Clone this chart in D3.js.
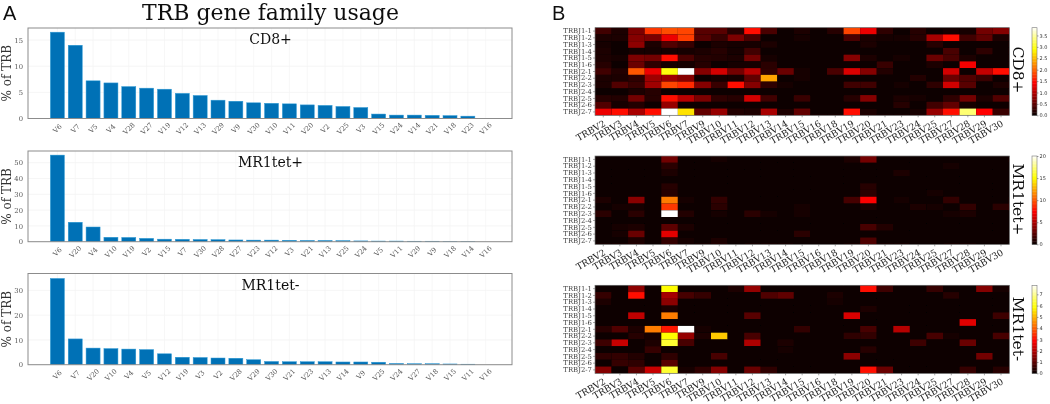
<!DOCTYPE html>
<html><head><meta charset="utf-8">
<style>html,body{margin:0;padding:0;background:#fff;overflow:hidden}svg{display:block}</style>
<script src="https://d3js.org/d3.v7.min.js"></script></head>
<body><svg id="c" width="1050" height="404"></svg>
<script>
const cd8Genes=["V6","V7","V5","V4","V28","V27","V19","V12","V13","V29","V9","V30","V10","V11","V20","V2","V25","V3","V15","V24","V14","V21","V18","V23","V16"];
const cd8Usage=[16.5,14,7.2,6.8,6.1,5.8,5.6,4.8,4.4,3.5,3.3,3.0,2.9,2.8,2.6,2.5,2.3,2.1,.85,.65,.65,.6,.55,.45,0];
const posGenes=["V6","V20","V4","V10","V19","V2","V15","V7","V30","V28","V27","V23","V12","V3","V21","V13","V25","V24","V5","V11","V29","V9","V18","V14","V16"];
const posUsage=[54.8,12.3,9.3,2.8,2.7,2.1,1.6,1.5,1.4,1.3,1.1,1.0,1.0,.9,.8,.8,.7,.5,.4,.4,.3,.3,.1,.05,0];
const negGenes=["V6","V7","V20","V10","V4","V5","V12","V19","V3","V2","V28","V29","V30","V21","V23","V13","V14","V9","V25","V24","V27","V18","V15","V11","V16"];
const negUsage=[34.8,10.4,6.7,6.5,6.3,6.1,4.4,3,2.9,2.7,2.6,2,1.3,1.2,1.2,1.2,1.1,1.1,1,.5,.4,.4,.3,.2,0];
const trbj=["TRBJ1-1","TRBJ1-2","TRBJ1-3","TRBJ1-4","TRBJ1-5","TRBJ1-6","TRBJ2-1","TRBJ2-2","TRBJ2-3","TRBJ2-4","TRBJ2-5","TRBJ2-6","TRBJ2-7"];
const trbv=["TRBV2","TRBV3","TRBV4","TRBV5","TRBV6","TRBV7","TRBV9","TRBV10","TRBV11","TRBV12","TRBV13","TRBV14","TRBV15","TRBV16","TRBV18","TRBV19","TRBV20","TRBV21","TRBV23","TRBV24","TRBV25","TRBV27","TRBV28","TRBV29","TRBV30"];
// each inner array: one TRBV column, top (TRBJ1-1) to bottom (TRBJ2-7)
const cd8Heat=[
[.3,.1,.05,.1,.1,.15,.3,.1,.1,.02,.15,.4,1.3],
[.1,.1,.02,.02,.05,.03,.12,.1,.4,.03,.12,.05,1.45],
[.65,.7,.75,.05,.65,.55,1.9,.2,.25,.1,.6,.12,.9],
[1.7,.65,.1,.05,.6,.2,1.3,.85,.85,.15,.15,.03,1.5],
[1.85,1.3,.4,.05,1.45,.05,2.9,.85,1.8,.03,1.5,.8,3.84],
[1.8,1.75,.25,.05,.35,.05,3.84,.7,1.65,.03,1,.03,2.7],
[.45,.45,.03,.1,.15,.15,.7,.03,.7,.02,.65,.03,.5],
[.45,.25,.1,.15,.12,.02,1.15,.05,.25,.02,.2,.03,.8],
[.15,.65,.05,.04,.1,.05,.6,.08,1.45,.02,.15,.03,.12],
[1.45,.35,.05,.3,.6,.05,1,.5,.7,.03,1.15,.03,.1],
[.35,.03,.1,.02,.04,.18,.2,2.35,.2,.02,.3,.02,.9],
[.02,.02,.02,.02,.02,.02,.55,.02,.05,.02,.03,.02,.1],
[.1,.05,.02,.02,.02,.02,.08,.08,.03,.02,.25,.02,.5],
[.01,.01,.01,.01,.01,.01,.01,.01,.01,.01,.01,.01,.01],
[.15,.01,.01,.01,.01,.01,.35,.01,.01,.01,.01,.01,.01],
[1.8,.35,.01,.01,.7,.01,1.2,.02,.3,.01,.15,.01,1.45],
[1.3,.1,.1,.01,.1,.01,.7,.01,.3,.01,.7,.01,.1],
[.2,.08,.01,.01,.02,.25,.12,.01,.01,.01,.01,.01,.01],
[.01,.06,.01,.01,.07,.01,.01,.01,.05,.01,.1,.15,.01],
[.15,.15,.01,.01,.01,.01,.01,.12,.01,.01,.05,.03,.08],
[.02,.9,.15,.02,.55,.1,.02,.02,.2,.01,.01,.3,.8],
[.05,1.45,.02,.35,.35,.02,1.15,.55,1.15,.02,.2,.5,1.5],
[.05,.3,.01,.01,.1,1.35,.01,.4,.45,.01,.6,.05,3.3],
[.6,.5,.01,.2,.01,.01,1.05,.25,.01,.01,.1,.01,1.4],
[.7,.1,.01,.01,.01,.03,1.45,.02,.1,.01,.4,.01,.25]];
const posHeat=[
[.1,0,0,0,0,0,.6,.05,.9,0,.05,.05,.05],
[0,0,0,0,0,0,.05,.2,.05,0,.3,.2,.05],
[.05,0,0,0,0,0,3.8,.4,.9,0,.6,2.8,.6],
[.1,0,0,0,0,0,0,0,0,0,0,0,0],
[3,1,.5,0,.8,.8,11,9,20,0,2.4,6.5,1.2],
[0,0,0,0,0,0,.2,.05,.7,0,.5,.05,.2],
[0,0,0,0,0,0,.05,0,.05,0,.05,0,.15],
[.2,0,0,0,0,0,1.2,.9,.2,0,.1,0,.5],
[0,0,0,0,0,0,0,0,0,0,0,0,0],
[0,0,0,0,0,0,0,.1,.9,0,0,0,.05],
[0,0,0,0,0,0,0,.15,.2,0,0,0,.05],
[0,0,0,0,0,0,0,.15,.1,0,0,0,.05],
[0,0,0,0,0,0,.05,.2,.4,0,.05,.9,0],
[0,0,0,0,0,0,0,0,0,0,0,0,0],
[0,0,0,0,0,0,0,0,0,0,0,0,0],
[.5,0,0,0,0,0,1.7,0,0,0,0,0,.05],
[3.1,0,0,0,.8,1,7.3,.5,0,0,1.8,0,2],
[.1,0,.15,0,0,0,.05,0,0,0,.7,0,.05],
[0,0,.6,0,0,0,.2,0,0,0,0,0,.1],
[0,0,0,0,0,0,0,.5,0,0,.1,0,0],
[0,0,0,0,0,.4,.05,.3,0,0,0,0,0],
[0,.3,0,0,0,0,1.1,0,.4,0,0,0,.05],
[0,0,0,0,0,0,.1,1.1,.5,0,0,.05,.05],
[.1,0,0,0,0,0,0,0,0,0,0,0,0],
[.1,0,0,0,0,0,.1,1,0,0,0,0,0]];
const negHeat=[
[0,.5,.2,0,.05,0,.3,0,.6,0,.4,0,1.4],
[0,0,0,0,0,0,.8,0,2.2,0,.45,.5,0],
[1.5,3,0,0,2.1,0,.2,.3,0,0,.25,.4,.9],
[0,0,0,0,0,0,4.3,.15,.2,.5,0,0,2.2],
[5.8,1.8,1.5,.2,4.3,0,3.1,5.8,6.2,0,.4,.9,6.2],
[0,.7,0,0,0,0,7.8,1.6,.7,0,0,0,.15],
[0,.5,0,0,0,0,.1,.2,0,0,0,0,.4],
[0,0,0,0,0,0,0,5.2,0,0,.7,0,1.4],
[.2,0,0,0,0,0,0,0,0,0,0,0,0],
[1.6,0,0,0,.9,0,0,.7,1.9,0,0,0,1.1],
[0,.8,0,0,0,0,0,0,0,0,0,0,.4],
[0,1,0,0,0,0,0,0,.2,.1,0,0,0],
[0,0,0,0,0,0,.45,0,0,0,0,0,0],
[0,0,0,0,0,0,0,0,0,0,0,0,0],
[0,.2,.1,0,0,0,0,0,0,0,0,0,0],
[0,0,0,0,2.4,0,0,.4,0,0,1.5,0,0],
[3,0,0,.2,0,0,.7,.45,0,.3,0,0,3],
[.6,0,0,0,0,0,0,0,0,0,0,0,1.1],
[0,0,0,0,0,0,2,0,0,0,0,0,0],
[0,0,0,0,0,0,0,0,.6,0,0,0,0],
[.5,0,0,0,0,0,0,.7,0,0,0,0,0],
[0,.3,0,0,0,0,0,.15,0,0,0,0,0],
[0,0,0,0,0,2.5,0,0,1.1,0,0,0,.5],
[1.4,0,0,0,0,0,0,0,0,0,1.2,0,0],
[.15,0,0,0,.6,0,0,.7,0,0,0,0,.3]];
const cd8Ticks=[0,5,10,15], posTicks=[0,10,20,30,40,50], negTicks=[0,10,20,30];
const cd8Bar=[0,.5,1,1.5,2,2.5,3,3.5], posBar=[0,5,10,15,20], negBar=[0,1,2,3,4,5,6,7];

const serif="'DejaVu Serif',serif";
const svg=d3.select("#c");
const defs=svg.append("defs");
defs.append("filter").attr("id","soft").attr("x","-5%").attr("y","-5%").attr("width","110%").attr("height","110%")
  .append("feGaussianBlur").attr("stdDeviation",0.55);
const root=svg.append("g").attr("filter","url(#soft)");

// matplotlib "hot" colour map
const hot=d3.scaleLinear().domain([0,.365,.746,1]).range(["#0b0000","#ff0000","#ffff00","#ffffff"]).clamp(true);

function txt(g,x,y,s,size,fam,extra){
  const t=g.append("text").attr("x",x).attr("y",y).text(s).attr("font-size",size).attr("font-family",fam).attr("fill","#111");
  if(extra) extra(t); return t;
}
txt(root,3,20,"A",20,"'Liberation Sans',sans-serif");
txt(root,552,19.5,"B",20,"'Liberation Sans',sans-serif");
txt(root,270.5,20,"TRB gene family usage",22,serif,t=>t.attr("text-anchor","middle"));

function barPanel(top,bottom,ymax,genes,vals,ticks,name,nameY){
  const L=28,R=512;
  const x=d3.scaleBand().domain(genes).range([48.6,494.5]).paddingInner(.215).paddingOuter(.1);
  const y=d3.scaleLinear().domain([0,ymax]).range([bottom,top]);
  const g=root.append("g");
  g.append("g").selectAll("line").data(ticks).join("line").attr("x1",L).attr("x2",R)
    .attr("y1",d=>y(d)).attr("y2",d=>y(d)).attr("stroke","#f0f0f0").attr("stroke-width",.7);
  g.append("g").selectAll("line").data(genes).join("line").attr("y1",top).attr("y2",bottom)
    .attr("x1",d=>x(d)+x.bandwidth()/2).attr("x2",d=>x(d)+x.bandwidth()/2).attr("stroke","#f3f3f3").attr("stroke-width",.7);
  g.append("g").selectAll("rect").data(genes).join("rect")
    .attr("x",d=>x(d)).attr("width",x.bandwidth())
    .attr("y",(d,i)=>y(vals[i])).attr("height",(d,i)=>bottom-y(vals[i]))
    .attr("fill","#0071b6").attr("stroke","#2f9bd6").attr("stroke-width",(d,i)=>vals[i]>0?.5:0);
  g.append("rect").attr("x",L).attr("y",top).attr("width",R-L).attr("height",bottom-top)
    .attr("fill","none").attr("stroke","#8c8c8c").attr("stroke-width",1);
  const ax=g.append("g").attr("transform",`translate(${L},0)`).call(d3.axisLeft(y).tickValues(ticks).tickSize(0).tickPadding(5));
  ax.select(".domain").remove();
  ax.selectAll("text").attr("font-family",serif).attr("font-size",6.8).attr("fill","#555");
  const bx=g.append("g").attr("transform",`translate(0,${bottom})`).call(d3.axisBottom(x).tickSize(0).tickPadding(0));
  bx.select(".domain").remove();
  bx.selectAll("text").attr("font-family",serif).attr("font-size",6.8).attr("fill","#555")
    .attr("text-anchor","middle").attr("dy",".35em").attr("y",0)
    .attr("transform","translate(0,10) rotate(-45)");
  const cy=(top+bottom)/2;
  txt(g,11,cy,"% of TRB",12,serif,t=>t.attr("text-anchor","middle").attr("fill","#333")
    .attr("transform",`rotate(-90 11 ${cy})`));
  txt(g,270.5,nameY,name,14,serif,t=>t.attr("text-anchor","middle"));
}
barPanel(28,118.5,17.3,cd8Genes,cd8Usage,cd8Ticks,"CD8+",43.5);
barPanel(151,241.7,57.4,posGenes,posUsage,posTicks,"MR1tet+",166.7);
barPanel(273.5,364.7,36.8,negGenes,negUsage,negTicks,"MR1tet-",290);

function heatPanel(top,bottom,vmax,mat,barTicks,fmt,name,nameY){
  const L=595,R=1009.3;
  const x=d3.scaleBand().domain(trbv).range([L,R]);
  const y=d3.scaleBand().domain(trbj).range([top,bottom]);
  const v=d3.scaleLinear().domain([0,vmax]).range([0,1]);
  const g=root.append("g");
  g.append("rect").attr("x",L).attr("y",top).attr("width",R-L).attr("height",bottom-top).attr("fill","#050000");
  const cells=[];
  mat.forEach((col,i)=>col.forEach((d,j)=>cells.push({g:trbv[i],j:trbj[j],d})));
  g.append("g").selectAll("rect").data(cells).join("rect")
    .attr("x",d=>x(d.g)).attr("y",d=>y(d.j)).attr("width",x.bandwidth()).attr("height",y.bandwidth())
    .attr("fill",d=>hot(v(d.d)));
  g.append("rect").attr("x",L).attr("y",top).attr("width",R-L).attr("height",bottom-top)
    .attr("fill","none").attr("stroke","#777").attr("stroke-width",.7);
  const ay=g.append("g").attr("transform",`translate(${L},0)`).call(d3.axisLeft(y).tickSize(2).tickPadding(1));
  ay.select(".domain").remove();
  ay.selectAll("line").attr("stroke","#555").attr("stroke-width",.5);
  ay.selectAll("text").attr("font-family",serif).attr("font-size",6.9).attr("fill","#444");
  const ax=g.append("g").attr("transform",`translate(0,${bottom})`).call(d3.axisBottom(x).tickSize(2).tickPadding(0));
  ax.select(".domain").remove();
  ax.selectAll("line").attr("stroke","#555").attr("stroke-width",.5);
  ax.selectAll("text").attr("font-family",serif).attr("font-size",9.1).attr("fill","#222")
    .attr("text-anchor","end").attr("dy",0).attr("y",0)
    .attr("transform","translate(3,10) rotate(-30)");
  // colour bar
  const cL=1032,cW=5;
  const cy=d3.scaleLinear().domain([0,vmax]).range([bottom,top]);
  const steps=d3.range(0,1.0001,1/60);
  g.append("g").selectAll("rect").data(steps).join("rect")
    .attr("x",cL).attr("width",cW).attr("y",d=>cy(d*vmax)-(bottom-top)/60).attr("height",(bottom-top)/60+.4)
    .attr("fill",d=>hot(d));
  g.append("rect").attr("x",cL).attr("y",top).attr("width",cW).attr("height",bottom-top)
    .attr("fill","none").attr("stroke","#777").attr("stroke-width",.6);
  const cax=g.append("g").attr("transform",`translate(${cL+cW},0)`).call(d3.axisRight(cy).tickValues(barTicks).tickFormat(d3.format(fmt)).tickSize(1.5).tickPadding(1));
  cax.select(".domain").remove();
  cax.selectAll("line").attr("stroke","#444").attr("stroke-width",.5);
  cax.selectAll("text").attr("font-family","'DejaVu Sans',sans-serif").attr("font-size",5).attr("fill","#333");
  txt(g,0,0,name,15.5,serif,t=>t.attr("text-anchor","middle").attr("transform",`translate(1013,${nameY}) rotate(90)`));
}
heatPanel(27.7,115.3,3.84,cd8Heat,cd8Bar,".1f","CD8+",70);
heatPanel(156,244.3,20,posHeat,posBar,"d","MR1tet+",199.5);
heatPanel(285.3,373.3,7.8,negHeat,negBar,"d","MR1tet-",329);
</script></body></html>
